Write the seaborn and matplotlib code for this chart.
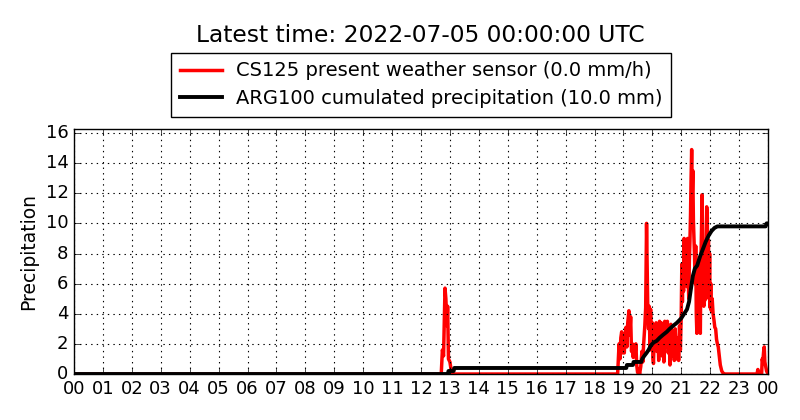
import pandas as pd
import matplotlib
matplotlib.use("Agg")
import matplotlib.pyplot as plt
import seaborn as sns

# CS125 present weather sensor, intensity in mm/h (time in decimal hours)
red_hours = [
    0.0, 12.70, 12.74, 12.78, 12.83, 12.86, 12.90, 12.92, 12.95, 13.00, 13.04, 13.08,
    18.80, 18.83, 18.85, 18.88, 18.91, 18.94, 18.97, 19.00, 19.03, 19.06, 19.09, 19.12,
    19.15, 19.19, 19.22, 19.25, 19.28, 19.31, 19.34, 19.37, 19.40, 19.43, 19.46, 19.49,
    19.53, 19.56, 19.60, 19.64, 19.67, 19.70, 19.74, 19.77, 19.80, 19.82, 19.84, 19.87,
    19.89, 19.92, 19.94, 19.97, 20.00, 20.02, 20.04, 20.07, 20.10, 20.13, 20.16, 20.19,
    20.22, 20.25, 20.28, 20.31, 20.34, 20.37, 20.40, 20.43, 20.46, 20.49, 20.52, 20.55,
    20.58, 20.61, 20.64, 20.67, 20.70, 20.73, 20.76, 20.79, 20.82, 20.85, 20.88, 20.91,
    20.94, 20.97, 21.00, 21.02, 21.04, 21.06, 21.08, 21.10, 21.12, 21.14, 21.16, 21.18,
    21.20, 21.22, 21.24, 21.26, 21.28, 21.30, 21.32, 21.34, 21.36, 21.38, 21.40, 21.42,
    21.44, 21.46, 21.48, 21.50, 21.52, 21.54, 21.56, 21.58, 21.60, 21.62, 21.64, 21.66,
    21.68, 21.70, 21.72, 21.74, 21.76, 21.78, 21.80, 21.82, 21.84, 21.86, 21.88, 21.90,
    21.92, 21.94, 21.96, 21.98, 22.00, 22.02, 22.04, 22.07, 22.10, 22.13, 22.16, 22.19,
    22.22, 22.25, 22.28, 22.31, 22.35, 22.40, 22.45, 22.50,
    23.62, 23.65, 23.68, 23.78, 23.80, 23.82, 23.85, 23.87, 23.89, 23.92, 23.95, 24.0,
]
red_values = [
    0.0, 0.0, 1.6, 1.2, 5.7, 5.0, 3.2, 4.5, 1.0, 0.8, 0.3, 0.0,
    0.0, 1.2, 2.0, 1.0, 2.4, 2.8, 1.4, 2.2, 1.4, 2.6, 3.1, 1.8,
    3.4, 4.2, 2.6, 3.8, 1.5, 2.0, 1.1, 1.9, 1.2, 2.0, 0.6, 0.1,
    0.3, 0.0, 0.5, 1.5, 0.8, 2.0, 3.2, 4.4, 10.0, 7.5, 4.6, 3.0,
    4.5, 1.6, 4.3, 2.0, 3.4, 1.1, 0.7, 3.0, 1.6, 3.4, 1.5, 2.8,
    0.9, 3.5, 2.2, 3.4, 1.2, 2.5, 0.8, 3.5, 1.8, 2.9, 3.5, 1.4,
    2.7, 0.6, 3.3, 1.8, 1.2, 2.6, 0.9, 3.0, 1.7, 1.0, 2.4, 0.9,
    3.2, 1.6, 4.0, 7.3, 4.8, 7.0, 5.5, 9.0, 6.5, 8.7, 6.0, 8.9,
    5.8, 9.0, 6.5, 5.0, 7.5, 8.8, 10.5, 13.0, 14.9, 12.0, 13.5, 10.2,
    9.0, 7.8, 6.0, 8.5, 4.0, 2.7, 5.5, 4.3, 7.2, 6.0, 3.5, 2.7,
    7.5, 9.5, 11.9, 8.0, 5.5, 4.5, 7.5, 4.9, 6.5, 9.0, 11.1, 10.5,
    6.0, 8.9, 5.0, 8.0, 4.4, 6.0, 4.2, 5.0, 4.0, 3.6, 3.1, 3.0,
    2.3, 2.0, 1.8, 1.3, 0.6, 0.2, 0.05, 0.0,
    0.0, 0.3, 0.0, 0.0, 1.0, 0.8, 1.5, 1.8, 0.8, 0.5, 0.2, 0.0,
]

# ARG100 cumulated precipitation in mm
black_hours = [
    0.0, 12.93, 12.95, 13.13, 13.15, 19.10, 19.12, 19.33, 19.35, 19.62,
    19.65, 19.72, 19.80, 19.87, 19.95, 20.05,
    20.15, 20.25, 20.37, 20.50, 20.60, 20.72, 20.85, 21.00, 21.10, 21.20, 21.27,
    21.33, 21.40, 21.47, 21.55, 21.65, 21.75, 21.85, 21.95, 22.05, 22.15, 22.25,
    23.92, 23.95, 24.0,
]
black_values = [
    0.0, 0.0, 0.2, 0.2, 0.4, 0.4, 0.6, 0.6, 0.8, 0.8,
    1.0, 1.2, 1.4, 1.6, 1.9, 2.1,
    2.2, 2.4, 2.6, 2.8, 3.0, 3.2, 3.4, 3.7, 4.0, 4.3, 4.8,
    5.6, 6.5, 7.0, 7.2, 7.8, 8.3, 8.8, 9.2, 9.5, 9.7, 9.8,
    9.8, 10.0, 10.0,
]

hour_labels = ["%02d" % h for h in range(24)] + ["00"]

plt.style.use("classic")
plt.rcParams["font.family"] = ["DejaVu Sans"]

red_df = pd.DataFrame({"hour": red_hours, "value": red_values})
black_df = pd.DataFrame({"hour": black_hours, "value": black_values})

fig = plt.figure(figsize=(8, 4.2), dpi=100, facecolor="white")
ax = fig.add_axes([0.0925, 0.1095, 0.8675, 0.5835])

sns.lineplot(data=red_df, x="hour", y="value", ax=ax, color="red", lw=2.5,
             label="CS125 present weather sensor (0.0 mm/h)")
sns.lineplot(data=black_df, x="hour", y="value", ax=ax, color="black", lw=2.8,
             label="ARG100 cumulated precipitation (10.0 mm)")

ax.set_xlim(0, 24)
ax.set_ylim(0, 16.27)
ax.set_xticks(range(25))
ax.set_xticklabels(hour_labels)
ax.set_yticks(range(0, 17, 2))
ax.tick_params(labelsize=13)
ax.grid(True, color="black", linestyle=":", linewidth=0.8)
ax.set_xlabel("")
ax.set_ylabel("Precipitation", fontsize=13.5)

ax.legend(loc="lower center", bbox_to_anchor=(0.5, 1.049), borderaxespad=0,
          fontsize=14, fancybox=False, numpoints=1, handlelength=2.2,
          handletextpad=0.7, borderpad=0.45, labelspacing=0.45)
fig.text(0.526, 1 - 35 / 420, "Latest time: 2022-07-05 00:00:00 UTC",
         ha="center", va="center", fontsize=16.8)

fig.savefig("out.png", dpi=100, facecolor="white")
